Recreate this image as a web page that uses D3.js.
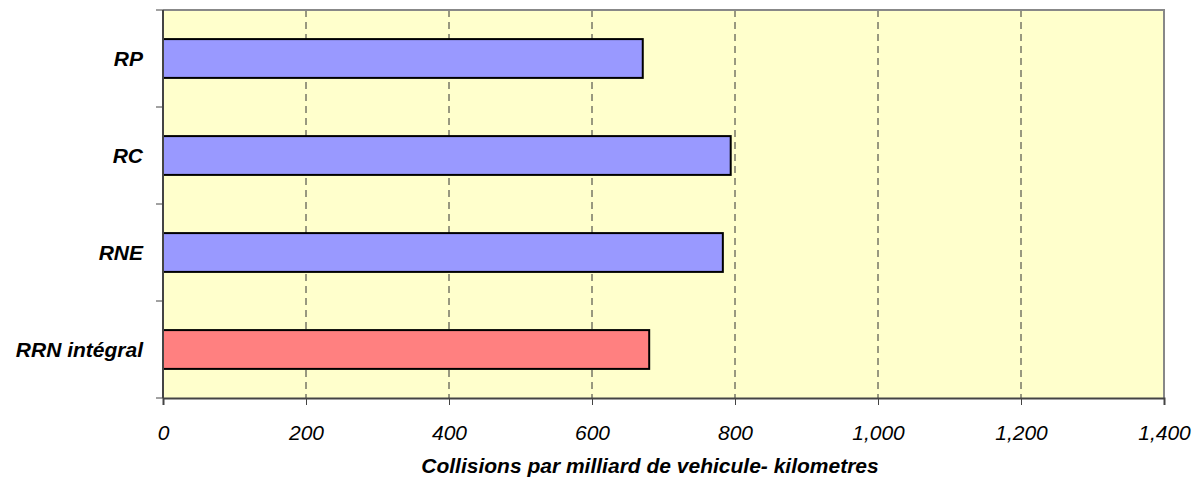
<!DOCTYPE html>
<html>
<head>
<meta charset="utf-8">
<script src="https://cdn.jsdelivr.net/npm/d3@7"></script>
<style>
  body { margin: 0; background: #fff; }
  text { font-family: "Liberation Sans", Arial, sans-serif; }
</style>
</head>
<body>
<div class="svg-container"></div>
<script>
const categories = ['RP', 'RC', 'RNE', 'RRN intégral']
const values = [671, 794, 783, 680]
const barColors = ['#9999ff', '#9999ff', '#9999ff', '#ff8080']
const xTicks = [0, 200, 400, 600, 800, 1000, 1200, 1400]
const xTitle = 'Collisions par milliard de vehicule- kilometres'

const width = 1200, height = 479
const margin = {top: 10, right: 36, bottom: 81, left: 163}

const svg = d3.select('.svg-container').append('svg')
  .attr('width', width)
  .attr('height', height)

const x = d3.scaleLinear()
  .domain([0, 1400])
  .range([margin.left, width - margin.right])

const y = d3.scaleBand()
  .domain(categories)
  .range([margin.top, height - margin.bottom])
  .paddingInner(0.6)
  .paddingOuter(0.3)

// same bands without padding, for the tick marks between categories
const yEdge = d3.scaleBand()
  .domain(categories)
  .range([margin.top, height - margin.bottom])

const plotW = x(1400) - x(0)
const plotH = height - margin.bottom - margin.top

svg.append('rect')
  .attr('x', x(0))
  .attr('y', margin.top)
  .attr('width', plotW)
  .attr('height', plotH)
  .style('fill', '#ffffcc')

// dashed grid
svg.selectAll('.grid')
  .data(xTicks.filter(t => t > 0 && t < 1400))
  .enter()
  .append('line')
  .attr('class', 'grid')
  .attr('x1', d => x(d)).attr('x2', d => x(d))
  .attr('y1', margin.top).attr('y2', height - margin.bottom)
  .style('stroke', '#333')
  .style('stroke-width', 1)
  .style('stroke-dasharray', '7,5')

// top + right border
svg.append('path')
  .attr('d', `M${x(0)},${margin.top}H${x(1400)}V${height - margin.bottom}`)
  .style('fill', 'none')
  .style('stroke', '#888')
  .style('stroke-width', 2)

svg.selectAll('.bar')
  .data(values)
  .enter()
  .append('rect')
  .attr('class', 'bar')
  .attr('x', x(0))
  .attr('y', (d, i) => y(categories[i]))
  .attr('width', d => x(d) - x(0))
  .attr('height', y.bandwidth())
  .style('fill', (d, i) => barColors[i])
  .style('stroke', '#000')
  .style('stroke-width', 2)

// x axis
const xAxis = svg.append('g')
  .attr('transform', `translate(0,${height - margin.bottom})`)
  .call(d3.axisBottom(x).tickValues(xTicks).tickSize(7).tickPadding(20)
    .tickFormat(d3.format(',')))
xAxis.select('.domain').style('stroke', '#444').style('stroke-width', 2)
xAxis.selectAll('.tick line').style('stroke', '#444')
xAxis.selectAll('text')
  .style('font-family', '"Liberation Sans", Arial, sans-serif')
  .style('font-size', '21px')
  .style('font-style', 'italic')
  .style('fill', '#000')

// y axis
svg.append('line')
  .attr('x1', x(0)).attr('x2', x(0))
  .attr('y1', margin.top).attr('y2', height - margin.bottom)
  .style('stroke', '#444')
  .style('stroke-width', 2)

const edges = categories.map(c => yEdge(c)).concat([height - margin.bottom])
svg.selectAll('.ytick')
  .data(edges)
  .enter()
  .append('line')
  .attr('class', 'ytick')
  .attr('x1', x(0) - 7).attr('x2', x(0))
  .attr('y1', d => d).attr('y2', d => d)
  .style('stroke', '#444')

svg.selectAll('.ylabel')
  .data(categories)
  .enter()
  .append('text')
  .attr('class', 'ylabel')
  .attr('x', 143)
  .attr('y', d => y(d) + y.bandwidth() / 2)
  .attr('dy', '0.35em')
  .attr('text-anchor', 'end')
  .style('font-size', '21px')
  .style('font-weight', 'bold')
  .style('font-style', 'italic')
  .text(d => d)

svg.append('text')
  .attr('x', 650)
  .attr('y', 473)
  .attr('text-anchor', 'middle')
  .style('font-size', '21px')
  .style('font-weight', 'bold')
  .style('font-style', 'italic')
  .text(xTitle)
</script>
</body>
</html>
